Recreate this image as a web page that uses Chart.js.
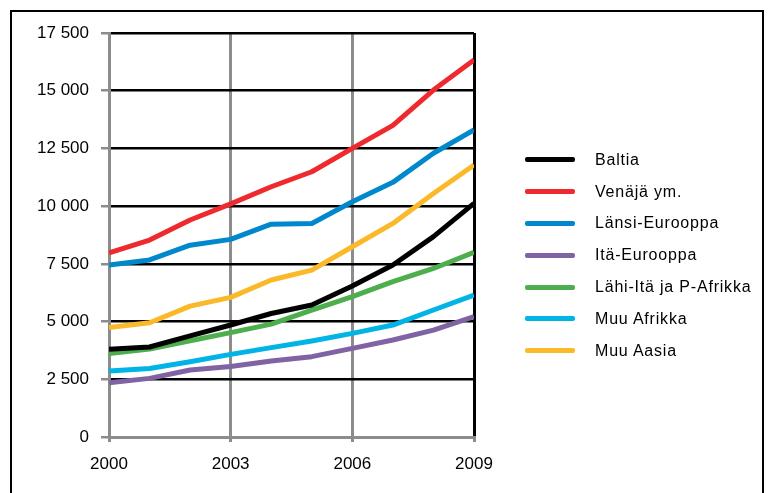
<!DOCTYPE html>
<html>
<head>
<meta charset="utf-8">
<script src="https://cdn.jsdelivr.net/npm/chart.js@4"></script>
<style>
  body { margin: 0; background: #fff; font-family: 'Liberation Sans', Arial, sans-serif; }
  #wrap { position: relative; width: 774px; height: 493px; overflow: hidden; }
  #frame { position: absolute; left: 10px; top: 10px; width: 750px; height: 500px; border: 2px solid #000; }
  #legend { position: absolute; left: 525px; top: 144px; }
  #legend .row { height: 31.8px; display: flex; align-items: center; }
  #legend .swatch { width: 50px; height: 5px; border-radius: 2px; margin-right: 20px; }
  #legend .lbl { font-size: 16px; letter-spacing: 0.8px; color: #000; }
  canvas { position: absolute; left: 0; top: 0; }
</style>
</head>
<body>
<div id="wrap">
  <div id="frame"></div>
  <canvas id="LineChart" width="774" height="493"></canvas>
  <div id="legend"></div>
</div>
<script>
const years = [2000, 2001, 2002, 2003, 2004, 2005, 2006, 2007, 2008, 2009]

const seriesNames = ['Baltia', 'Venäjä ym.', 'Länsi-Eurooppa', 'Itä-Eurooppa', 'Lähi-Itä ja P-Afrikka', 'Muu Afrikka', 'Muu Aasia']
const seriesColors = ['#000000', '#ee2a2e', '#0088cc', '#7f63a3', '#4cae4c', '#00b4e6', '#fbb829']

const baltia = [3800, 3900, 4380, 4850, 5350, 5720, 6540, 7450, 8680, 10120]
const venaja = [7980, 8530, 9400, 10100, 10840, 11490, 12500, 13500, 15030, 16330]
const lansiEurooppa = [7450, 7670, 8310, 8560, 9220, 9250, 10190, 11030, 12290, 13300]
const itaEurooppa = [2350, 2540, 2900, 3050, 3290, 3480, 3840, 4200, 4630, 5210]
const lahiIta = [3620, 3810, 4170, 4520, 4890, 5500, 6080, 6730, 7300, 8000]
const muuAfrikka = [2860, 2970, 3260, 3580, 3870, 4160, 4490, 4850, 5500, 6150]
const muuAasia = [4740, 4950, 5670, 6050, 6800, 7230, 8240, 9250, 10550, 11780]

const yTicks = [0, 2500, 5000, 7500, 10000, 12500, 15000, 17500]
const xTicks = [2000, 2003, 2006, 2009]

const allSeries = [baltia, venaja, lansiEurooppa, itaEurooppa, lahiIta, muuAfrikka, muuAasia]
const grey = '#8c8c8c'
const tickFont = { family: "'Liberation Sans', Arial", size: 17 }

// 17500 -> "17 500"
const fmt = (v) => v >= 1000 ? Math.floor(v / 1000) + ' ' + String(v % 1000).padStart(3, '0') : String(v)

const ctx = document.getElementById('LineChart').getContext('2d')
const myChart = new Chart(ctx, {
    type: 'line',
    data: {
        datasets: allSeries.map((vals, i) => ({
            label: seriesNames[i],
            data: years.map((yr, j) => ({ x: yr, y: vals[j] })),
            borderColor: seriesColors[i],
            backgroundColor: seriesColors[i],
            borderWidth: 5,
            pointRadius: 0,
            tension: 0,
            borderJoinStyle: 'round',
        })),
    },
    options: {
        responsive: false,
        animation: false,
        layout: { padding: { left: 0, right: 300, top: 33, bottom: 0 } },
        plugins: { legend: { display: false }, tooltip: { enabled: false } },
        scales: {
            x: {
                type: 'linear',
                min: 2000,
                max: 2009,
                afterBuildTicks: (scale) => { scale.ticks = xTicks.map(v => ({ value: v })) },
                afterFit: (scale) => { scale.height = 56 },
                border: { color: grey, width: 3 },
                grid: {
                    color: (c) => c.tick && c.tick.value === 2009 ? '#000' : grey,
                    lineWidth: 3,
                    tickLength: 5,
                    tickColor: grey,
                },
                ticks: {
                    color: '#000',
                    font: tickFont,
                    padding: 12,
                    maxRotation: 0,
                    callback: (v) => String(v),
                },
            },
            y: {
                min: 0,
                max: 17500,
                afterBuildTicks: (scale) => { scale.ticks = yTicks.map(v => ({ value: v })) },
                afterFit: (scale) => { scale.width = 109 },
                border: { color: grey, width: 3 },
                grid: {
                    color: (c) => c.tick && c.tick.value === 0 ? grey : '#000',
                    lineWidth: 2.5,
                    tickLength: 8,
                    tickColor: grey,
                },
                ticks: {
                    color: '#000',
                    font: tickFont,
                    padding: 12,
                    callback: fmt,
                },
            },
        },
    },
})

const legend = document.getElementById('legend')
seriesNames.forEach((name, i) => {
    const row = document.createElement('div')
    row.className = 'row'
    row.innerHTML = '<div class="swatch" style="background:' + seriesColors[i] + '"></div><div class="lbl">' + name + '</div>'
    legend.appendChild(row)
})
</script>
</body>
</html>
